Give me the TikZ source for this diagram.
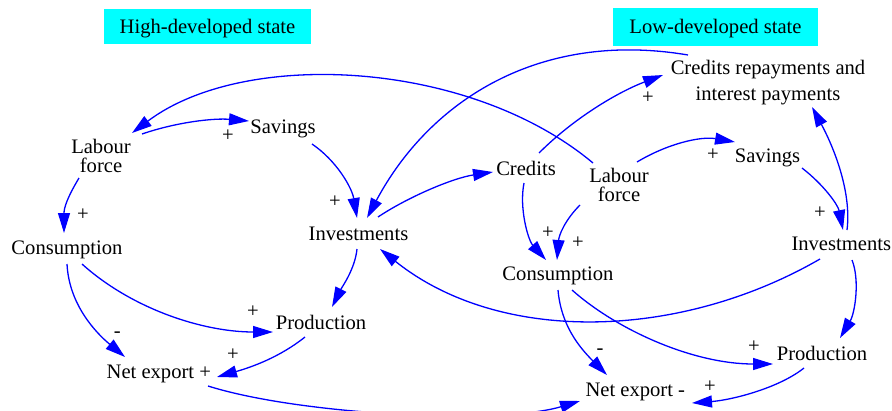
\documentclass[tikz,border=0pt]{standalone}
\usepackage{fontspec}
\setmainfont{Liberation Serif}
\usetikzlibrary{arrows.meta}
\definecolor{cbl}{RGB}{0,0,255}
\definecolor{ccy}{RGB}{0,255,255}
\begin{document}
\begin{tikzpicture}[x=1pt,y=-1pt,
  every node/.style={inner sep=0pt, outer sep=0pt, font=\fontsize{20.6}{19.2}\selectfont},
  var/.style={anchor=base},
  varml/.style={align=center},
  sign/.style={anchor=base},
  titlebox/.style={fill=ccy, text height=13pt, text depth=0pt},
  link/.style={draw=cbl, line width=1.3pt, -{Triangle[length=20pt,width=12pt]}}
]
\useasboundingbox (0,0) rectangle (892,410);

% titles
\node[titlebox, minimum width=207pt, minimum height=35pt] (t1) at (207.5,26.5) {High-developed state};
\node[titlebox, minimum width=205pt, minimum height=38pt] (t2) at (715.5,26.5) {Low-developed state};

% high-developed state
\node[varml] (lf1) at (101,155.6) {Labour\\force};
\node[var] (s1) at (283,133.5) {Savings};
\node[var] (i1) at (358.5,240) {Investments};
\node[var] (c1) at (67,254) {Consumption};
\node[var] (p1) at (321,329.3) {Production};
\node[var] (n1) at (158.8,378.3) {Net export +};

% low-developed state
\node[var] (cr) at (526,175) {Credits};
\node[varml] (lf2) at (619,184.9) {Labour\\force};
\node[varml, font=\fontsize{20.6}{26}\selectfont] (crip) at (768,82.2) {Credits repayments and\\interest payments};
\node[var] (s2) at (767.5,162.7) {Savings};
\node[var] (i2) at (841.3,250.7) {Investments};
\node[var] (c2) at (558,280) {Consumption};
\node[var] (p2) at (822,360) {Production};
\node[var] (n2) at (635.3,396) {Net export -};

% connectors
\draw[link] ([shift={(41,-21.6)}]lf1.center) .. controls +(35,-12) and +(-35,-3) .. ([shift={(-34,-12.5)}]s1.base);
\draw[link] ([shift={(-26,-21.9)}]lf2.center) .. controls +(-123,-103) and +(113,-85) .. ([shift={(31,-22.6)}]lf1.center);
\draw[link] ([shift={(-80,-27.2)}]crip.center) .. controls +(-148,-25) and +(63,-118) .. ([shift={(8.5,-22)}]i1.base);
\draw[link] ([shift={(29,10.5)}]s1.base) .. controls +(25,17) and +(-5,-30) .. ([shift={(-1.5,-22)}]i1.base);
\draw[link] ([shift={(19.5,-23)}]i1.base) .. controls +(30,-20) and +(-40,6) .. ([shift={(-33,-3)}]cr.base);
\draw[link] ([shift={(13,-22)}]cr.base) .. controls +(35,-35) and +(-45,17) .. ([shift={(-105,-7.2)}]crip.center);
\draw[link] ([shift={(-22,22.4)}]lf1.center) .. controls +(-12,20) and +(0,-25) .. ([shift={(-3,-21)}]c1.base);
\draw[link] ([shift={(15,10)}]c1.base) .. controls +(50,45) and +(-70,0) .. ([shift={(-48,2.7)}]p1.base);
\draw[link] ([shift={(0,10)}]c1.base) .. controls +(2,40) and +(-30,-25) .. ([shift={(-33.8,-21.3)}]n1.base);
\draw[link] ([shift={(-1.5,9)}]i1.base) .. controls +(-2,20) and +(10,-20) .. ([shift={(11,-22.3)}]p1.base);
\draw[link] ([shift={(-16,7.7)}]p1.base) .. controls +(-25,20) and +(35,-10) .. ([shift={(58.2,-1.3)}]n1.base);
\draw[link] ([shift={(49.2,7.7)}]n1.base) .. controls +(92,29) and +(-80,24) .. ([shift={(-55.3,5)}]n2.base);
\draw[link] ([shift={(-21.3,8.3)}]i2.base) .. controls +(-140,81) and +(120,96) .. ([shift={(21.5,9)}]i1.base);
\draw[link] ([shift={(-2,8)}]cr.base) .. controls +(-5,25) and +(-18,-20) .. ([shift={(-12,-20)}]c2.base);
\draw[link] ([shift={(-39,20.1)}]lf2.center) .. controls +(-15,15) and +(2,-25) .. ([shift={(-1,-20)}]c2.base);
\draw[link] ([shift={(18,-22.9)}]lf2.center) .. controls +(30,-18) and +(-35,-6) .. ([shift={(-32.5,-20.7)}]s2.base);
\draw[link] ([shift={(34.5,5.3)}]s2.base) .. controls +(22,17) and +(-5,-25) .. ([shift={(1.7,-20.7)}]i2.base);
\draw[link] ([shift={(5.7,-20.7)}]i2.base) .. controls +(5,-40) and +(20,37) .. ([shift={(44,24.8)}]crip.center);
\draw[link] ([shift={(10.7,9.3)}]i2.base) .. controls +(8,20) and +(15,-25) .. ([shift={(18,-22)}]p2.base);
\draw[link] ([shift={(14,10)}]c2.base) .. controls +(45,40) and +(-80,0) .. ([shift={(-49,4)}]p2.base);
\draw[link] ([shift={(0,10)}]c2.base) .. controls +(3,35) and +(-28,-28) .. ([shift={(-28.3,-21)}]n2.base);
\draw[link] ([shift={(-18,8)}]p2.base) .. controls +(-25,20) and +(40,-3) .. ([shift={(56.7,7)}]n2.base);

% polarity signs
\node[sign] (g1) at (228,141.2) {+};
\node[sign] (g2) at (335,207.2) {+};
\node[sign] (g3) at (648,103.2) {+};
\node[sign] (g4) at (83,220.2) {+};
\node[sign] (g5) at (253,317.2) {+};
\node[sign] (g6) at (117.3,337.4) {-};
\node[sign] (g7) at (233,360.2) {+};
\node[sign] (g8) at (548,238.2) {+};
\node[sign] (g9) at (578,248.2) {+};
\node[sign] (g10) at (713,160.2) {+};
\node[sign] (g11) at (820,218.2) {+};
\node[sign] (g12) at (754,352.2) {+};
\node[sign] (g13) at (600,354) {-};
\node[sign] (g14) at (710,392.2) {+};
\end{tikzpicture}
\end{document}
